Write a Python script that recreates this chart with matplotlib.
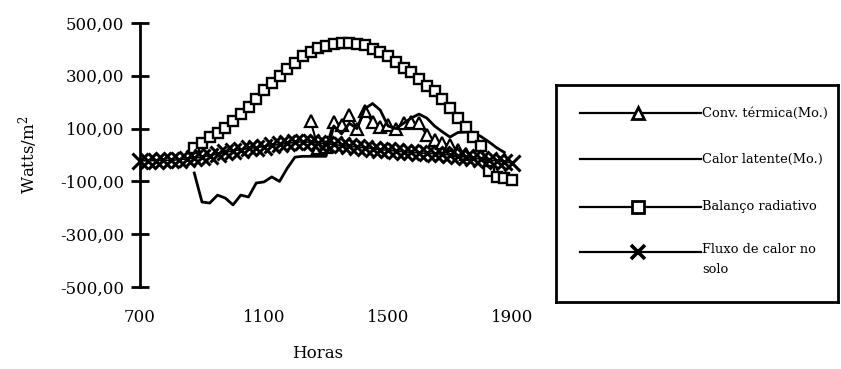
import matplotlib.pyplot as plt
import numpy as np

plt.rcParams['font.family'] = 'DejaVu Serif'
plt.rcParams['mathtext.fontset'] = 'dejavuserif'

nan = np.nan

# horas (de 15 em 15 min, 7:00 ate 19:00)
horas = [7.0, 7.25, 7.5, 7.75, 8.0, 8.25, 8.5, 8.75, 9.0, 9.25, 9.5, 9.75,
         10.0, 10.25, 10.5, 10.75, 11.0, 11.25, 11.5, 11.75, 12.0, 12.25, 12.5, 12.75,
         13.0, 13.25, 13.5, 13.75, 14.0, 14.25, 14.5, 14.75, 15.0, 15.25, 15.5, 15.75,
         16.0, 16.25, 16.5, 16.75, 17.0, 17.25, 17.5, 17.75, 18.0, 18.25, 18.5, 18.75, 19.0]

conv_termica = [nan] * 22 + [130, 25, 30, 125, 115, 150, 100, 165, 125, 105,
                             115, 100, 120, 125, 120, 75, 55, 45, 38, 20, 5] + [nan] * 6

calor_latente = [nan] * 7 + [-68, -178, -182, -152, -163, -189, -152, -159, -106, -102,
                             -83, -100, -50, -8, -5, -5, -5, -5, 110, 80,
                             120, 100, 175, 195, 170, 110, 100, 120, 140, 155,
                             140, 110, 88, 68, 85, 87, 86, 70, 50, 28, 10] + [nan]

balanco = [nan] * 7 + [25, 45, 68, 82, 101, 130, 155, 182, 212, 247,
                       272, 298, 324, 350, 375, 392, 405, 414, 420, 423,
                       423, 422, 415, 402, 389, 375, 352, 330, 313, 288,
                       262, 242, 212, 177, 140, 106, 68, 35, -60, -85, -88, -95]

fluxo_solo = [-22, -22, -21, -20, -20, -18, -15, -12, -8, -2,
              4, 10, 16, 20, 25, 28, 32, 36, 40, 44,
              48, 50, 48, 45, 42, 40, 36, 33, 30, 27,
              24, 20, 18, 15, 12, 10, 8, 6, 5, 3,
              0, -4, -8, -12, -16, -20, -22, -26, -30]

xticks = [7, 11, 15, 19]
xlabels = ['700', '1100', '1500', '1900']
yticks = [-500, -300, -100, 100, 300, 500]

fig = plt.figure(figsize=(8.41, 3.69), dpi=100)
ax = fig.add_axes([140 / 841, 82 / 369, 372 / 841, 264 / 369])

ax.plot(horas, conv_termica, color='black', lw=1.5, marker='^', ms=8,
        mfc='white', mec='black', mew=1.6, clip_on=False, zorder=2)
ax.plot(horas, calor_latente, color='black', lw=2, clip_on=False, zorder=3)
ax.plot(horas, balanco, color='black', lw=1.5, marker='s', ms=7.8,
        mfc='white', mec='black', mew=1.7, clip_on=False, zorder=4)
ax.plot(horas, fluxo_solo, color='black', lw=1.2, marker='x', ms=11,
        mew=2.2, clip_on=False, zorder=5)

ax.set_xlim(7, 19)
ax.set_ylim(-500, 500)
ax.set_xticks(xticks)
ax.set_xticklabels(xlabels)
ax.set_yticks(yticks)
ax.set_yticklabels([f'{v:.2f}'.replace('.', ',') for v in yticks])

for s in ['top', 'right', 'bottom']:
    ax.spines[s].set_visible(False)
ax.spines['left'].set_linewidth(2)
ax.tick_params(axis='y', direction='inout', length=13, width=2, pad=5, labelsize=12)
ax.tick_params(axis='x', length=0, pad=16, labelsize=12)

ax.set_ylabel('Watts/m$^2$', fontsize=12)
ax.yaxis.set_label_coords(-0.27, 0.5)
ax.set_xlabel('Horas', fontsize=12)
ax.xaxis.set_label_coords(0.478, -0.22)

# legenda (desenhada a mao, como no original)
lax = fig.add_axes([556 / 841, 67 / 369, 282 / 841, 217 / 369])
lax.set_xlim(0, 1)
lax.set_ylim(0, 1)
lax.set_xticks([])
lax.set_yticks([])
for s in lax.spines.values():
    s.set_linewidth(2)

entradas = [('Conv. térmica(Mo.)', '^', 0.871),
            ('Calor latente(Mo.)', None, 0.659),
            ('Balanço radiativo', 's', 0.438),
            ('Fluxo de calor no\nsolo', 'x', 0.230)]
for nome, mk, yy in entradas:
    lax.plot([0.085, 0.515], [yy, yy], color='black', lw=1.6)
    if mk == 'x':
        lax.plot([0.29], [yy], marker='x', ms=10, mew=2.6, color='black')
    elif mk:
        lax.plot([0.29], [yy], marker=mk, ms=9, mfc='white', mec='black', mew=2)
    if '\n' in nome:
        lax.text(0.518, yy + 0.042, nome, fontsize=9.4, va='top', ha='left',
                 linespacing=1.75)
    else:
        lax.text(0.518, yy, nome, fontsize=9.4, va='center', ha='left')

fig.savefig('out.png', dpi=100)
